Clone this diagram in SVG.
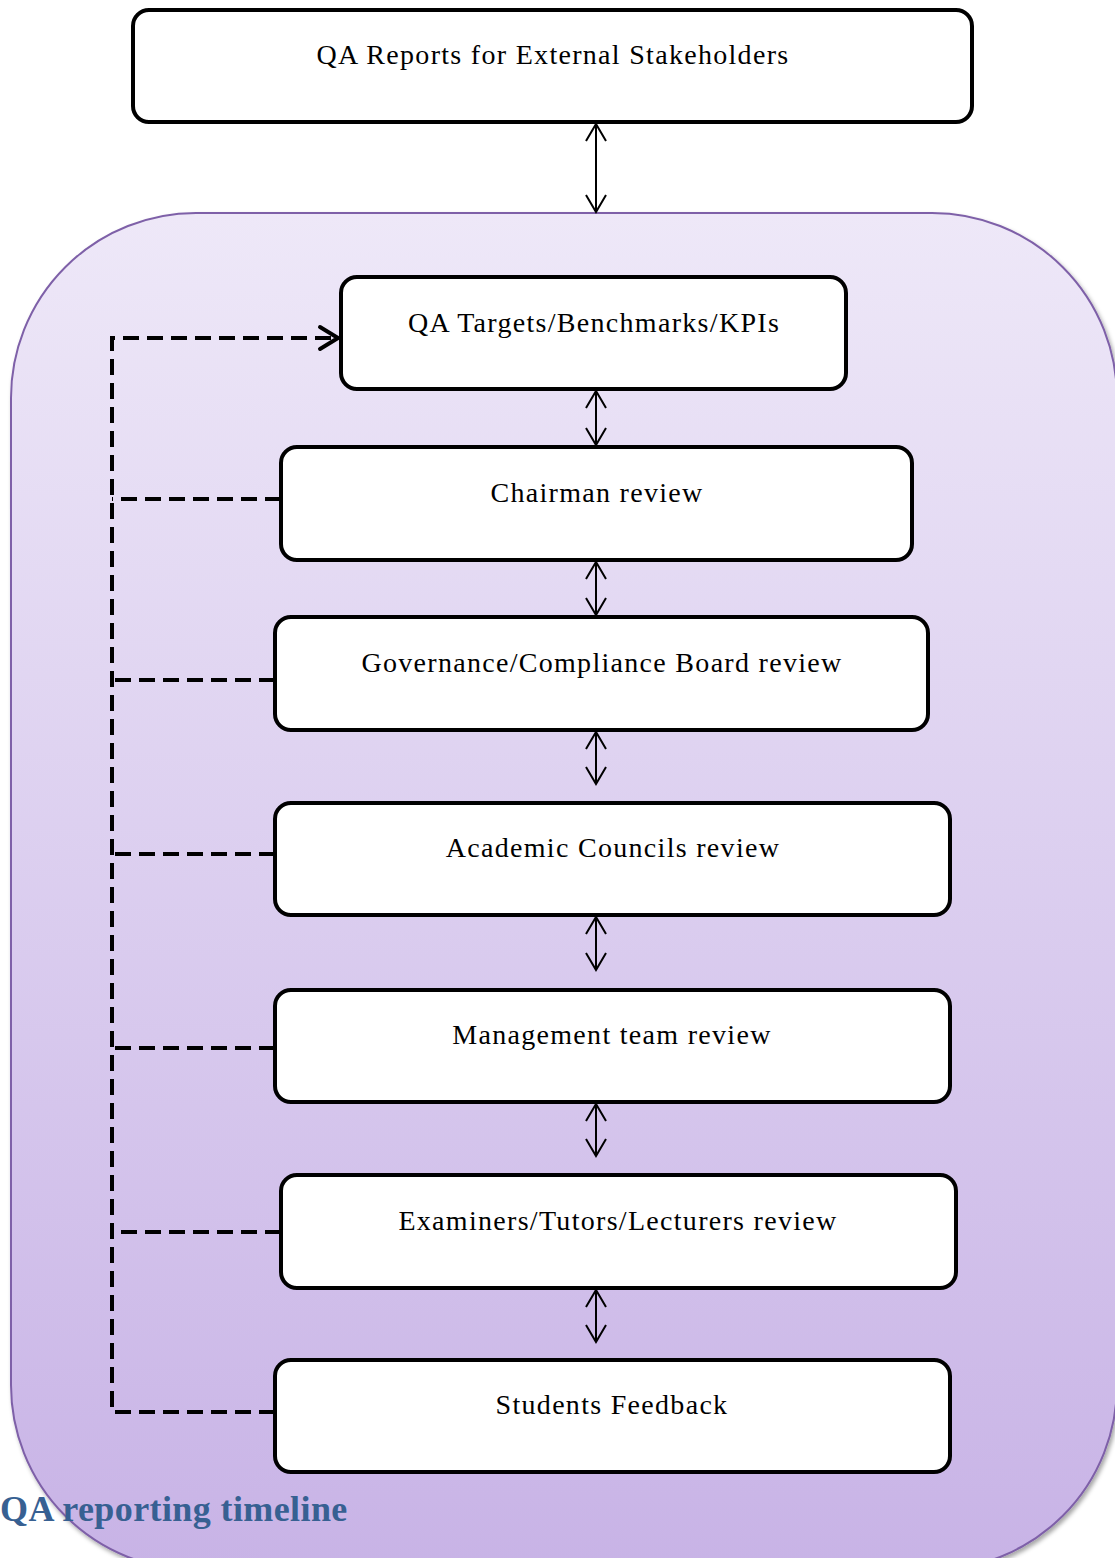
<svg xmlns="http://www.w3.org/2000/svg" width="1115" height="1558" viewBox="0 0 1115 1558">
<defs>
<linearGradient id="bg" x1="0" y1="0" x2="0" y2="1">
<stop offset="0" stop-color="#EEE8F8"/>
<stop offset="1" stop-color="#C8B3E6"/>
</linearGradient>
<filter id="sh" x="-5%" y="-5%" width="110%" height="110%">
<feDropShadow dx="2" dy="3" stdDev="3" flood-color="#000" flood-opacity="0.35"/>
</filter>
<marker id="ah" markerWidth="20" markerHeight="24" refX="18" refY="12" orient="auto-start-reverse" markerUnits="userSpaceOnUse">
<path d="M1,2 L18,12 L1,22" fill="none" stroke="#000" stroke-width="2"/>
</marker>
<marker id="dh" markerWidth="24" markerHeight="28" refX="21" refY="14" orient="auto" markerUnits="userSpaceOnUse">
<path d="M3,3 L21,14 L3,25" fill="none" stroke="#000" stroke-width="4" stroke-linecap="round" stroke-linejoin="round"/>
</marker>
</defs>
<style>
.box{fill:#fff;stroke:#000;stroke-width:4}
.lbl{font-family:"Liberation Serif",serif;font-size:28px;letter-spacing:1.3px;fill:#000;text-anchor:middle}
.arr{stroke:#000;stroke-width:2;fill:none;marker-start:url(#ah);marker-end:url(#ah)}
.dash{stroke:#000;stroke-width:4;fill:none;stroke-dasharray:16 8}
</style>
<g id="container">
<rect x="11" y="213" width="1106" height="1357" rx="185" ry="185" fill="url(#bg)" stroke="#7E60A8" stroke-width="2" filter="url(#sh)"/>
</g>
<g id="connectors">
<line class="arr" x1="596" y1="124" x2="596" y2="212"/>
<line class="arr" x1="596" y1="391" x2="596" y2="445"/>
<line class="arr" x1="596" y1="562" x2="596" y2="615"/>
<line class="arr" x1="596" y1="732" x2="596" y2="784"/>
<line class="arr" x1="596" y1="917" x2="596" y2="970"/>
<line class="arr" x1="596" y1="1104" x2="596" y2="1156"/>
<line class="arr" x1="596" y1="1290" x2="596" y2="1342"/>
<path class="dash" d="M275,1412 H112 V338 H338" marker-end="url(#dh)"/>
<line class="dash" x1="281" y1="499" x2="112" y2="499"/>
<line class="dash" x1="275" y1="680" x2="112" y2="680"/>
<line class="dash" x1="275" y1="854" x2="112" y2="854"/>
<line class="dash" x1="275" y1="1048" x2="112" y2="1048"/>
<line class="dash" x1="281" y1="1232" x2="112" y2="1232"/>
</g>
<g id="n1"><rect class="box" x="133" y="10" width="839" height="112" rx="16"/><text class="lbl" x="553" y="64">QA Reports for External Stakeholders</text></g>
<g id="n2"><rect class="box" x="341" y="277" width="505" height="112" rx="16"/><text class="lbl" x="594" y="332">QA Targets/Benchmarks/KPIs</text></g>
<g id="n3"><rect class="box" x="281" y="447" width="631" height="113" rx="16"/><text class="lbl" x="597" y="502">Chairman review</text></g>
<g id="n4"><rect class="box" x="275" y="617" width="653" height="113" rx="16"/><text class="lbl" x="602" y="672">Governance/Compliance Board review</text></g>
<g id="n5"><rect class="box" x="275" y="803" width="675" height="112" rx="16"/><text class="lbl" x="613" y="857">Academic Councils review</text></g>
<g id="n6"><rect class="box" x="275" y="990" width="675" height="112" rx="16"/><text class="lbl" x="612" y="1044">Management team review</text></g>
<g id="n7"><rect class="box" x="281" y="1175" width="675" height="113" rx="16"/><text class="lbl" x="618" y="1230">Examiners/Tutors/Lecturers review</text></g>
<g id="n8"><rect class="box" x="275" y="1360" width="675" height="112" rx="16"/><text class="lbl" x="612" y="1414">Students Feedback</text></g>
<g id="title"><text x="0" y="1521" font-family="Liberation Serif, serif" font-size="36" font-weight="bold" letter-spacing="0.4" fill="#376092">QA reporting timeline</text></g>
</svg>
